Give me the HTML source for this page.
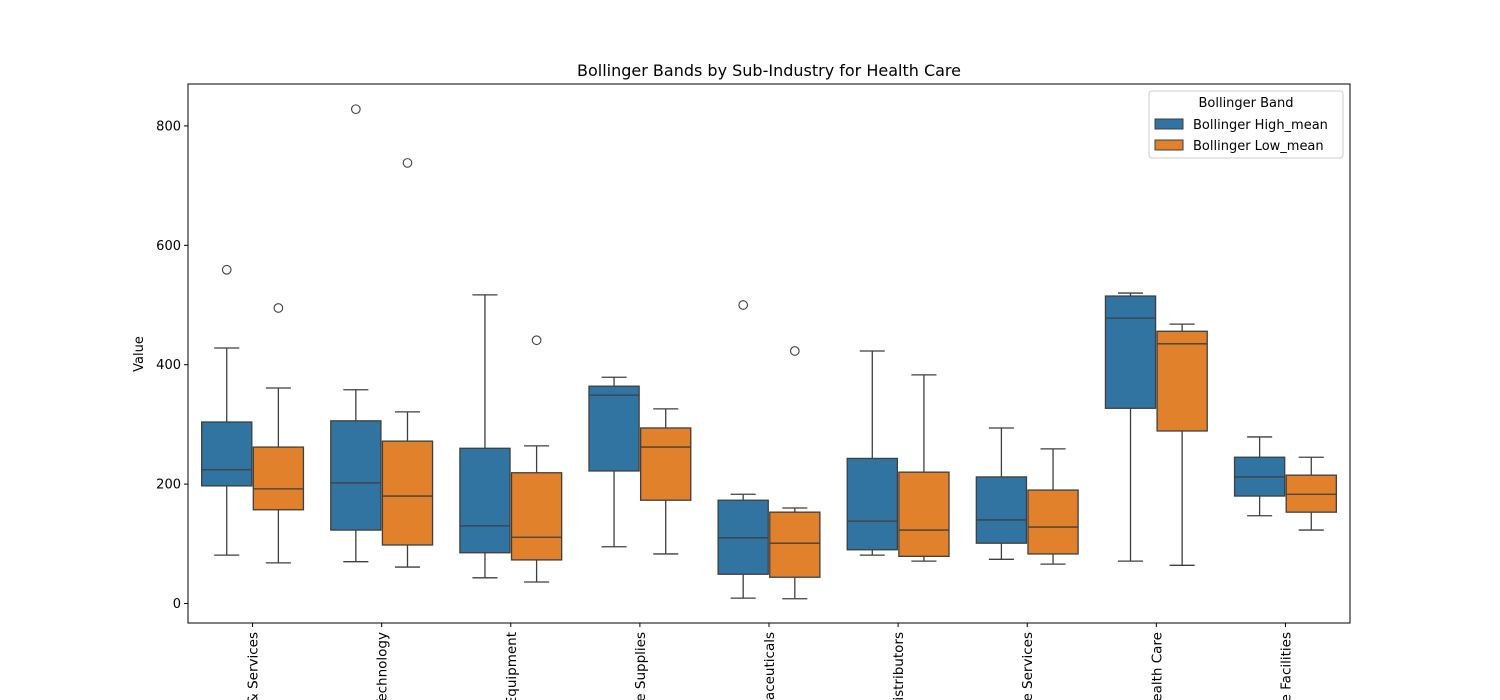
<!DOCTYPE html>
<html><head><meta charset="utf-8"><style>
html,body{margin:0;padding:0;background:#fff;overflow:hidden;width:1500px;height:700px}
svg{display:block;overflow:hidden}
text{font-family:"DejaVu Sans","Liberation Sans",sans-serif;fill:#000}
</style></head><body>
<svg id="chart" width="1500" height="700" xmlns="http://www.w3.org/2000/svg"><defs><clipPath id="clipAll"><rect x="0" y="0" width="1500" height="700"/></clipPath></defs></svg>
<script>
const categories=["Life Sciences Tools & Services","Health Care Technology","Health Care Equipment","Health Care Supplies","Pharmaceuticals","Health Care Distributors","Health Care Services","Managed Health Care","Health Care Facilities"];
const highStats=[[81,197,224,304,428],[70,123,202,306,358],[43,85,130,260,517],[95,222,349,364,379],[9,49,110,173,183],[81,90,138,243,423],[74,101,140,212,294],[71,327,478,515,520],[147,180,212,245,279]];
const lowStats=[[68,157,192,262,361],[61,98,180,272,321],[36,73,111,219,264],[83,173,262,294,326],[8,44,101,153,160],[71,79,123,220,383],[66,83,128,190,259],[64,289,435,456,468],[123,153,183,215,245]];
const highOutliers=[[559],[828],[],[],[500],[],[],[],[]];
const lowOutliers=[[495],[738],[441],[],[423],[],[],[],[]];
const yTicks=[0,200,400,600,800];
const seriesNames=["Bollinger High_mean","Bollinger Low_mean"];
const colors=["#3274a1","#e1812c"];
const svg=document.getElementById('chart');const NS="http://www.w3.org/2000/svg";
const L=188,R=1350,T=84,B=623;
const y=v=>603.5-v*0.597;
const bw=(R-L)/categories.length;
const xc=i=>L+bw*(i+0.5);
function mk(t,a,p){const e=document.createElementNS(NS,t);for(const k in a)e.setAttribute(k,a[k]);(p||svg).appendChild(e);return e;}
const title=mk('text',{x:769,y:76,'text-anchor':'middle','font-size':16});title.textContent="Bollinger Bands by Sub-Industry for Health Care";


const yl=mk('text',{x:0,y:0,'text-anchor':'middle','font-size':13,transform:'translate(143,354) rotate(-90)'});yl.textContent="Value";


yTicks.forEach(t=>{const g=mk('g',{});


mk('line',{x1:L-4,x2:L,y1:y(t),y2:y(t),stroke:'#000'},g);
const tx=mk('text',{x:L-7,y:y(t)+4.5,'text-anchor':'end','font-size':13},g);tx.textContent=t;});
const xg=mk('g',{'clip-path':'url(#clipAll)'});


categories.forEach((c,i)=>{const g=mk('g',{},xg);


mk('line',{x1:xc(i),x2:xc(i),y1:B,y2:B+4,stroke:'#000'},g);
const tx=mk('text',{x:0,y:0,'text-anchor':'end','font-size':13.5,transform:`translate(${xc(i)+5},${B+9}) rotate(-90)`},g);tx.textContent=c;});
function box(i,s,st,outs,col){const g=mk('g',{});


const cx=xc(i)+(s?1:-1)*bw*0.2, w=bw*0.4-1.5;const ln='#3f3f3f';
mk('line',{x1:cx,x2:cx,y1:y(st[0]),y2:y(st[1]),stroke:ln,'stroke-width':1.3},g);
mk('line',{x1:cx,x2:cx,y1:y(st[3]),y2:y(st[4]),stroke:ln,'stroke-width':1.3},g);
mk('line',{x1:cx-w/4,x2:cx+w/4,y1:y(st[0]),y2:y(st[0]),stroke:ln,'stroke-width':1.3},g);
mk('line',{x1:cx-w/4,x2:cx+w/4,y1:y(st[4]),y2:y(st[4]),stroke:ln,'stroke-width':1.3},g);
mk('rect',{x:cx-w/2,y:y(st[3]),width:w,height:y(st[1])-y(st[3]),fill:col,stroke:ln,'stroke-width':1.3},g);
mk('line',{x1:cx-w/2,x2:cx+w/2,y1:y(st[2]),y2:y(st[2]),stroke:ln,'stroke-width':1.3},g);
outs.forEach(o=>mk('circle',{cx:cx,cy:y(o),r:4.3,fill:'none',stroke:ln,'stroke-width':1.1},g));}
categories.forEach((c,i)=>{box(i,0,highStats[i],highOutliers[i],colors[0]);box(i,1,lowStats[i],lowOutliers[i],colors[1]);});
const frame=mk('rect',{x:L,y:T,width:R-L,height:B-T,fill:'none',stroke:'#000','stroke-width':1});


const lg=mk('g',{});


mk('rect',{x:1149,y:91,width:194,height:67,rx:3,fill:'#fff',stroke:'#ccc'},lg);
const lt=mk('text',{x:1246,y:107,'text-anchor':'middle','font-size':13},lg);lt.textContent="Bollinger Band";
seriesNames.forEach((n,k)=>{const e=mk('g',{},lg);


mk('rect',{x:1155,y:119+k*21,width:28,height:10,fill:colors[k],stroke:'#3f3f3f'},e);
const t=mk('text',{x:1193,y:129+k*21,'font-size':13},e);t.textContent=n;});
</script>
</body></html>
